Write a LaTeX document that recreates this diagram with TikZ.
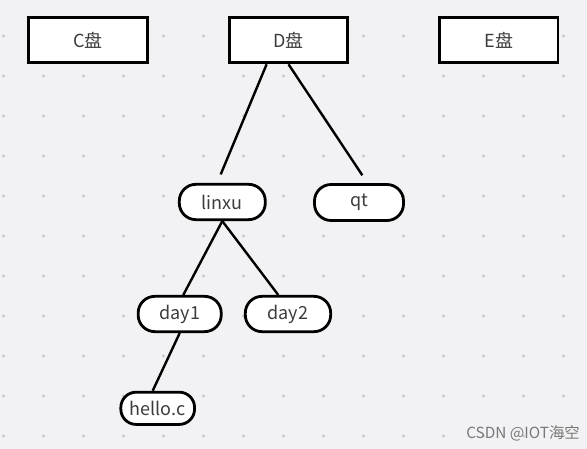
\documentclass[tikz,border=0pt]{standalone}
\usepackage{fontspec}
\setmainfont{Noto Sans CJK SC}
\usepackage{tikz}
\usetikzlibrary{positioning}
\definecolor{bg}{RGB}{242,242,244}
\definecolor{griddot}{RGB}{196,196,200}
\definecolor{txt}{RGB}{60,60,60}
\definecolor{mark}{RGB}{120,120,120}

\begin{document}
\begin{tikzpicture}[x=0.75pt, y=-0.75pt]
      \tikzset{ disk/.style ={draw=black, line width=2.2pt, fill=white, text=txt, minimum width=88.8pt, minimum height=34.2pt, font=\fontsize{13.5}{16}\selectfont} }
      \tikzset{ dir/.style  ={draw=black, line width=2.1pt, fill=white, text=txt, rounded corners=12.5pt, minimum height=26.5pt, font=\fontsize{13.5}{16}\selectfont} }
      \tikzset{ link/.style ={draw=black, line width=1.8pt} }

      \fill[bg] (0,0) rectangle (587,449);
      \useasboundingbox (0,0) rectangle (587,449);

      % dot grid
      \foreach \i in {0,...,14} {
        \foreach \j in {0,...,10} {
          \fill[griddot] (3.5+40*\i, 36+40*\j) circle[radius=1.2pt];
        }
      }

      \node[disk] (l0_n0) at (88.0, 40.0) {C盘};
      \node[disk] (l0_n1) at (288.5, 40.0) {D盘};
      \node[disk] (l0_n2) at (498.8, 40.0) {E盘};

      \node[dir, minimum width=64.5pt] (l1_n0) at (222.3, 202.0) {linxu};
      \node[dir, minimum width=66.8pt, minimum height=27.0pt] (l1_n1) at (359.0, 202.5) {qt};

      \draw[link] ([xshift=-16.4pt]l0_n1.south) -- ([xshift=-1.2pt, yshift=6.4pt]l1_n0.north);
      \draw[link] (l0_n1.south) -- ([xshift=2.5pt, yshift=5.9pt]l1_n1.north);

      \node[dir, minimum width=62.3pt] (l2_n0) at (179.7, 314.0) {day1};
      \node[dir, minimum width=64.0pt] (l2_n1) at (288.0, 314.0) {day2};

      \draw[link] (l1_n0.south) -- ([xshift=2.7pt]l2_n0.north);
      \draw[link] (l1_n0.south) -- ([xshift=-7.3pt]l2_n1.north);

      \node[dir, minimum width=55.3pt, minimum height=24.2pt, rounded corners=11.5pt] (l3_n0) at (157.7, 408.3) {hello.c};

      \draw[link] (l2_n0.south) -- ([xshift=-3.75pt]l3_n0.north);

      \node[text=mark, font=\fontsize{11.5}{13}\selectfont] (wm) at (523.0, 433.0) {CSDN @IOT海空};
\end{tikzpicture}
\end{document}
